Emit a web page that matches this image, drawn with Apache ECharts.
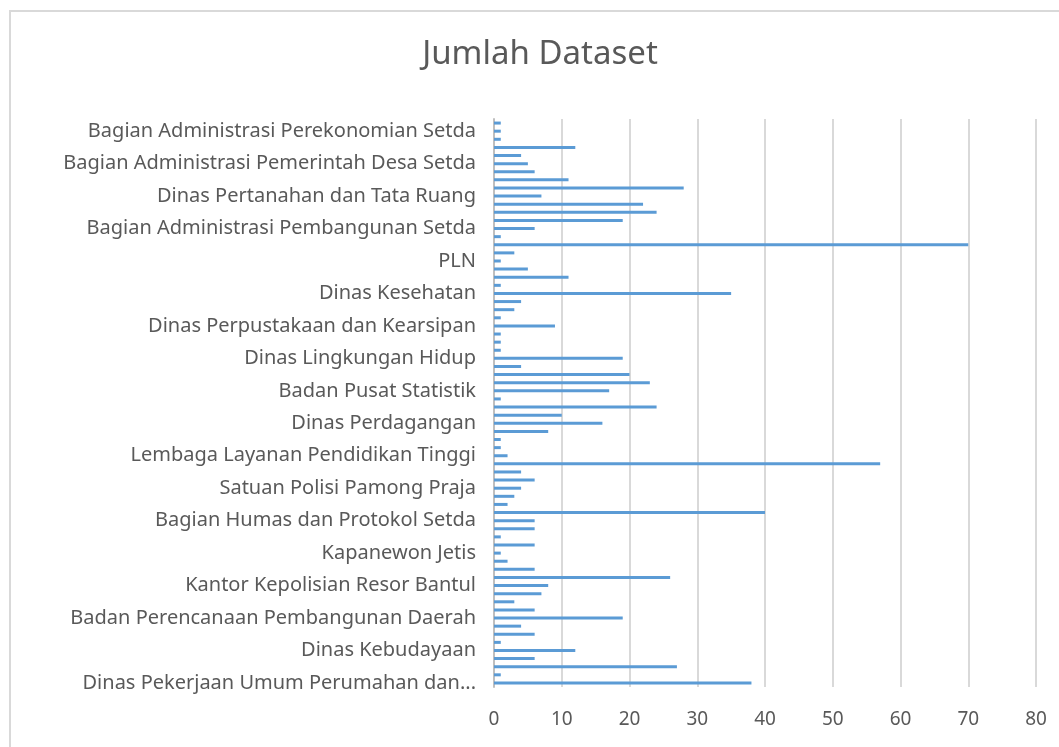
<!DOCTYPE html>
<html>
<head>
<meta charset="utf-8">
<title>Jumlah Dataset</title>
<script src="https://cdn.jsdelivr.net/npm/echarts@6/dist/echarts.min.js"></script>
<style>
  html, body { margin: 0; padding: 0; background: #fff; }
  #chart { width: 1059px; height: 747px; }
</style>
</head>
<body>
<div id="chart"></div>
<script>
// labels that are visible on the axis (every 4th category, top to bottom)
var shownLabels = [
  'Bagian Administrasi Perekonomian Setda',
  'Bagian Administrasi Pemerintah Desa Setda',
  'Dinas Pertanahan dan Tata Ruang',
  'Bagian Administrasi Pembangunan Setda',
  'PLN',
  'Dinas Kesehatan',
  'Dinas Perpustakaan dan Kearsipan',
  'Dinas Lingkungan Hidup',
  'Badan Pusat Statistik',
  'Dinas Perdagangan',
  'Lembaga Layanan Pendidikan Tinggi',
  'Satuan Polisi Pamong Praja',
  'Bagian Humas dan Protokol Setda',
  'Kapanewon Jetis',
  'Kantor Kepolisian Resor Bantul',
  'Badan Perencanaan Pembangunan Daerah',
  'Dinas Kebudayaan',
  'Dinas Pekerjaan Umum Perumahan dan...'
];

// jumlah dataset per instansi, top to bottom
var jumlah = [
  1, 1, 1, 12, 4, 5, 6, 11, 28, 7,
  22, 24, 19, 6, 1, 70, 3, 1, 5, 11,
  1, 35, 4, 3, 1, 9, 1, 1, 1, 19,
  4, 20, 23, 17, 1, 24, 10, 16, 8, 1,
  1, 2, 57, 4, 6, 4, 3, 2, 40, 6,
  6, 1, 6, 1, 2, 6, 26, 8, 7, 3,
  6, 19, 4, 6, 1, 12, 6, 27, 1, 38
];

var xTicks = [0, 10, 20, 30, 40, 50, 60, 70, 80];

// the other category names are not readable in the picture
var categories = jumlah.map(function (v, i) {
  return (i % 4 === 1) ? shownLabels[(i - 1) / 4] : '';
});

var chart = echarts.init(document.getElementById('chart'));

var option = {
  animation: false,
  textStyle: { fontFamily: 'Noto Sans' },
  title: {
    text: 'Jumlah Dataset',
    left: 535,
    top: 33,
    textAlign: 'center',
    textStyle: { fontSize: 33, fontWeight: 'normal', color: '#595959', fontFamily: 'Noto Sans' }
  },
  graphic: [{
    type: 'rect',
    shape: { x: 10, y: 11, width: 1100, height: 800 },
    style: { fill: 'none', stroke: '#d9d9d9', lineWidth: 2 },
    silent: true
  }],
  grid: { left: 494, right: 23, top: 119, bottom: 60 },
  xAxis: {
    type: 'value',
    min: xTicks[0],
    max: xTicks[xTicks.length - 1],
    interval: 10,
    axisLine: { show: false },
    axisTick: { show: false },
    axisLabel: { color: '#595959', fontSize: 19, margin: 23 },
    splitLine: { lineStyle: { color: '#d9d9d9', width: 2 } }
  },
  yAxis: {
    type: 'category',
    inverse: true,
    data: categories,
    axisLine: { lineStyle: { color: '#bfbfbf', width: 2 } },
    axisTick: { show: false },
    axisLabel: { interval: 0, color: '#595959', fontSize: 20, margin: 18 }
  },
  series: [{
    type: 'bar',
    data: jumlah,
    barWidth: 3,
    itemStyle: { color: '#5b9bd5' }
  }]
};

chart.setOption(option);
</script>
</body>
</html>
